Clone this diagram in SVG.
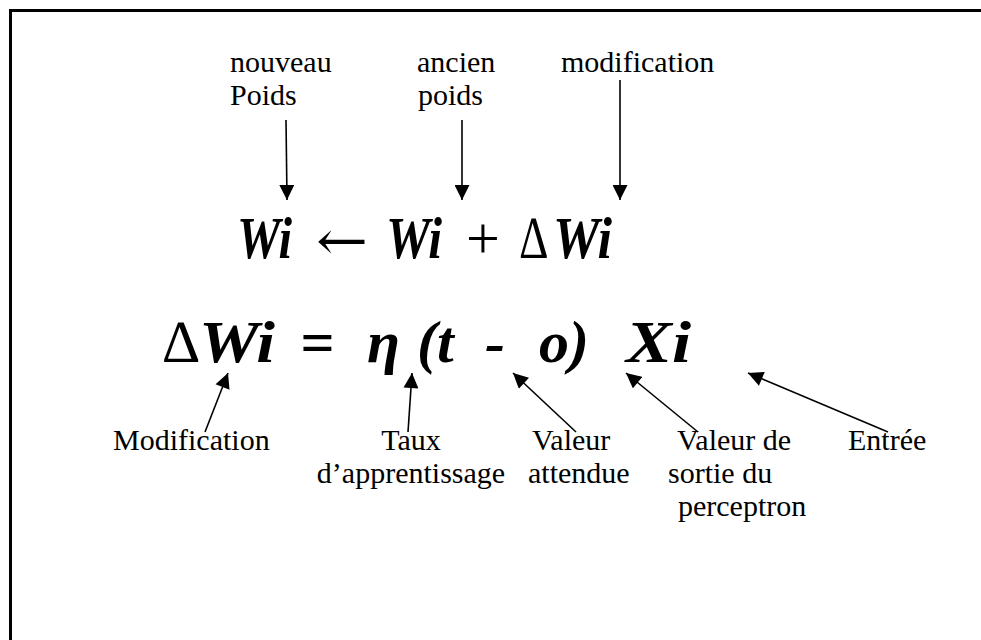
<svg xmlns="http://www.w3.org/2000/svg" width="981" height="640" viewBox="0 0 981 640">
<style>
.lbl{font-family:"Liberation Serif","Times New Roman",serif;font-size:30px;fill:#000}
.eq{font-family:"Liberation Serif","Times New Roman",serif;font-size:60px;font-weight:bold;font-style:italic;fill:#000}
.sym{font-family:"Liberation Serif","DejaVu Serif",serif;font-size:60px;fill:#000}
.arr{font-family:"DejaVu Serif",serif;font-size:56px;fill:#000}
.con{stroke:#000;stroke-width:1.6;fill:none;marker-end:url(#ah)}
</style>
<defs>
<marker id="ah" viewBox="0 0 10 10" refX="10" refY="5" markerUnits="userSpaceOnUse" markerWidth="16" markerHeight="15" orient="auto">
<path d="M0,0 L10,5 L0,10 Z" fill="#000"/>
</marker>
</defs>
<rect x="10.5" y="10.5" width="1000" height="700" fill="#fff" stroke="#000" stroke-width="3"/>
<g id="label-nouveau"><text class="lbl" x="230" y="72">nouveau</text><text class="lbl" x="230" y="105">Poids</text></g>
<g id="label-ancien"><text class="lbl" x="417" y="72">ancien</text><text class="lbl" x="418" y="105">poids</text></g>
<g id="label-modification"><text class="lbl" x="561" y="72">modification</text></g>
<g id="eq1">
<text class="eq" x="237" y="258" textLength="55" lengthAdjust="spacingAndGlyphs">Wi</text>
<text class="arr" x="316" y="260" textLength="52" lengthAdjust="spacingAndGlyphs">←</text>
<text class="eq" x="386" y="258" textLength="56" lengthAdjust="spacingAndGlyphs">Wi</text>
<text class="sym" x="466" y="258">+</text>
<text class="sym" x="520" y="258" textLength="28" lengthAdjust="spacingAndGlyphs">∆</text>
<text class="eq" x="553" y="258" textLength="59" lengthAdjust="spacingAndGlyphs">Wi</text>
</g>
<g id="eq2">
<text class="sym" x="163" y="362">∆</text>
<text class="eq" x="199" y="362" textLength="76" lengthAdjust="spacingAndGlyphs">Wi</text>
<text class="eq" x="300" y="362">=</text>
<text class="eq" x="367" y="362">η</text>
<text class="eq" x="417" y="362">(t</text>
<text class="eq" x="485" y="362">-</text>
<text class="eq" x="539" y="362">o)</text>
<text class="eq" x="626" y="362" textLength="65" lengthAdjust="spacingAndGlyphs">Xi</text>
</g>
<g id="label-Modification"><text class="lbl" x="113" y="450">Modification</text></g>
<g id="label-taux"><text class="lbl" x="411" y="450" text-anchor="middle">Taux</text><text class="lbl" x="411" y="483" text-anchor="middle">d’apprentissage</text></g>
<g id="label-attendue"><text class="lbl" x="532" y="450">Valeur</text><text class="lbl" x="528" y="483">attendue</text></g>
<g id="label-sortie"><text class="lbl" x="677" y="450">Valeur de</text><text class="lbl" x="668" y="483">sortie du</text><text class="lbl" x="678" y="516">perceptron</text></g>
<g id="label-entree"><text class="lbl" x="848" y="450">Entrée</text></g>
<g id="connectors">
<line class="con" x1="286" y1="120" x2="287" y2="200"/>
<line class="con" x1="462" y1="120" x2="462" y2="200"/>
<line class="con" x1="620" y1="80" x2="620" y2="200"/>
<line class="con" x1="205" y1="432" x2="228" y2="373"/>
<line class="con" x1="408" y1="432" x2="412" y2="373"/>
<line class="con" x1="576" y1="432" x2="513" y2="373"/>
<line class="con" x1="698" y1="432" x2="626" y2="373"/>
<line class="con" x1="888" y1="432" x2="748" y2="373"/>
</g>
</svg>
